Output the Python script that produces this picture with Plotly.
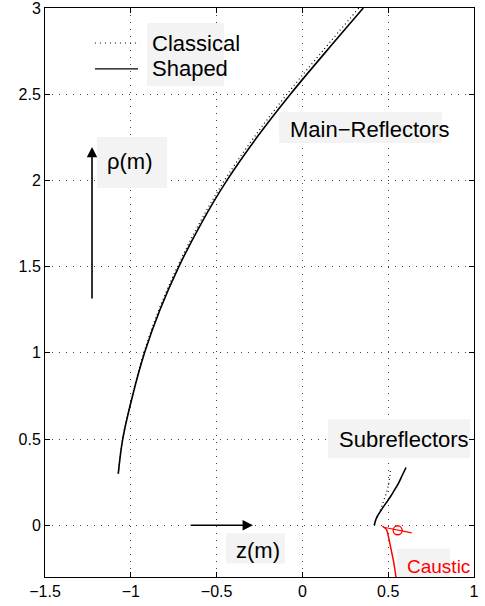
import plotly.graph_objects as go

# ---- data (z in m, rho in m) ----
main_rho = [0.30, 0.50, 0.75, 1.00, 1.25, 1.50, 1.75, 2.00, 2.25, 2.50, 2.75, 3.00]
main_z_shaped = [-1.073, -1.047, -0.990, -0.920, -0.830, -0.720, -0.590, -0.440, -0.265, -0.070, 0.140, 0.355]
main_z_classical = [-1.073, -1.048, -0.992, -0.924, -0.836, -0.728, -0.601, -0.454, -0.282, -0.090, 0.117, 0.329]

sub_z_shaped = [0.419, 0.424, 0.433, 0.448, 0.462, 0.486, 0.510, 0.535, 0.559, 0.582, 0.604]
sub_rho_shaped = [0.000, 0.020, 0.045, 0.070, 0.092, 0.127, 0.161, 0.202, 0.242, 0.290, 0.335]
sub_z_classical = [0.419, 0.428, 0.442, 0.458, 0.471, 0.485, 0.497, 0.505, 0.510, 0.515]
sub_rho_classical = [0.000, 0.030, 0.062, 0.097, 0.135, 0.174, 0.213, 0.251, 0.290, 0.330]

caustic_z = [0.466, 0.490, 0.500, 0.510, 0.520, 0.530, 0.538, 0.545]
caustic_rho = [-0.005, -0.025, -0.060, -0.106, -0.155, -0.203, -0.250, -0.300]
ray_z = [0.481, 0.637]
ray_rho = [-0.013, -0.044]
focus_z = [0.555]
focus_rho = [-0.029]

x_ticks = [-1.5, -1.0, -0.5, 0.0, 0.5, 1.0]
y_ticks = [0, 0.5, 1.0, 1.5, 2.0, 2.5, 3.0]

FONT = "Liberation Sans, Arial, Helvetica, sans-serif"
BOX = "#f3f3f3"

fig = go.Figure()
fig.add_trace(go.Scatter(x=main_z_classical, y=main_rho, mode="lines",
                         line=dict(color="black", width=1.2, dash="1px,3px", shape="spline")))
fig.add_trace(go.Scatter(x=main_z_shaped, y=main_rho, mode="lines",
                         line=dict(color="black", width=1.6, shape="spline")))
fig.add_trace(go.Scatter(x=sub_z_classical, y=sub_rho_classical, mode="lines",
                         line=dict(color="black", width=1.2, dash="1px,3px", shape="spline")))
fig.add_trace(go.Scatter(x=sub_z_shaped, y=sub_rho_shaped, mode="lines",
                         line=dict(color="black", width=1.6, shape="spline")))
fig.add_trace(go.Scatter(x=caustic_z, y=caustic_rho, mode="lines",
                         line=dict(color="red", width=1.5, shape="spline")))
fig.add_trace(go.Scatter(x=ray_z, y=ray_rho, mode="lines",
                         line=dict(color="red", width=1.2)))
fig.add_trace(go.Scatter(x=focus_z, y=focus_rho, mode="markers",
                         marker=dict(symbol="circle-open", size=9, color="red",
                                     line=dict(width=1.3, color="red"))))

# text background boxes
boxes = [
    (-0.906, -0.456, 2.548, 2.913),   # legend
    (-0.136, 0.813, 2.217, 2.397),    # Main-Reflectors
    (-1.197, -0.789, 1.956, 2.252),   # rho(m)
    (-0.445, -0.101, -0.221, -0.046), # z(m)
    (0.149, 0.977, 0.389, 0.615),     # Subreflectors
    (0.551, 0.860, -0.300, -0.134),   # Caustic
]
for x0, x1, y0, y1 in boxes:
    fig.add_shape(type="rect", x0=x0, x1=x1, y0=y0, y1=y1, xref="x", yref="y",
                  fillcolor=BOX, line=dict(width=0), layer="between")

# legend samples
fig.add_shape(type="line", x0=-1.209, x1=-0.946, y0=2.797, y1=2.797,
              line=dict(color="black", width=1.2, dash="1px,4px"))
fig.add_shape(type="line", x0=-1.209, x1=-0.958, y0=2.647, y1=2.647,
              line=dict(color="black", width=1.4))

def label(x, y, text, size=22, color="black"):
    fig.add_annotation(x=x, y=y, xref="x", yref="y", text=text, showarrow=False,
                       xanchor="left", yanchor="middle",
                       font=dict(family=FONT, size=size, color=color))

label(-0.886, 2.797, "Classical")
label(-0.886, 2.647, "Shaped")
label(-0.084, 2.293, "Main\u2212Reflectors")
label(-1.150, 2.107, "\u03c1(m)")
label(-0.399, -0.145, "z(m)")
label(0.202, 0.499, "Subreflectors")
label(0.598, -0.238, "Caustic", size=19, color="red")

# arrows
fig.add_annotation(x=-1.226, y=2.194, ax=-1.226, ay=1.306, xref="x", yref="y",
                   axref="x", ayref="y", text="", showarrow=True,
                   arrowhead=2, arrowsize=1.3, arrowwidth=1.6, arrowcolor="black")
fig.add_annotation(x=-0.288, y=0.0, ax=-0.660, ay=0.0, xref="x", yref="y",
                   axref="x", ayref="y", text="", showarrow=True,
                   arrowhead=2, arrowsize=1.3, arrowwidth=1.6, arrowcolor="black")

axis_common = dict(showline=True, linecolor="black", linewidth=1, mirror="ticks",
                   ticks="inside", ticklen=5, tickcolor="black", tickwidth=1,
                   showgrid=True, gridcolor="#444", gridwidth=1, griddash="1px,6px",
                   zeroline=False, automargin=False, ticklabeloverflow="allow",
                   tickfont=dict(family=FONT, size=16, color="black"))

fig.update_xaxes(range=[-1.5, 1.0], tickvals=x_ticks,
                 ticktext=[("\u2212" if v < 0 else "") + (f"{abs(v):g}") for v in x_ticks],
                 **axis_common)
fig.update_yaxes(range=[-0.3, 3.0], tickvals=y_ticks,
                 ticktext=[f"{v:g}" for v in y_ticks], **axis_common)

fig.update_layout(width=485, height=606, margin=dict(l=45, r=11, t=8, b=29),
                  paper_bgcolor="white", plot_bgcolor="white", showlegend=False)

fig.write_html("out.html")
